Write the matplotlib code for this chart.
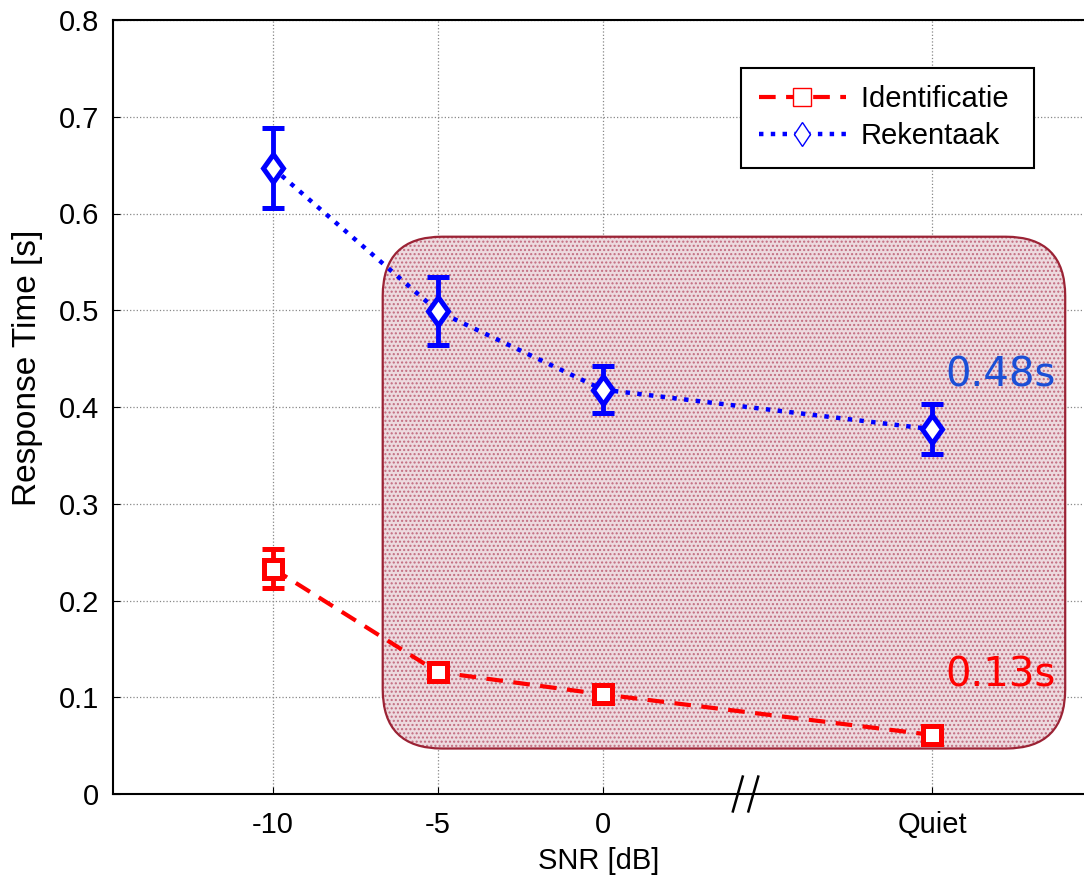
import matplotlib.pyplot as plt
from matplotlib.patches import FancyBboxPatch
from matplotlib.markers import MarkerStyle
from matplotlib.transforms import Affine2D
from matplotlib.lines import Line2D

plt.rcParams['font.family'] = ['Liberation Sans', 'DejaVu Sans']

# conditions on the x axis
snr_pos = [-10, -5, 0, 10]
snr_labels = ['-10', '-5', '0', 'Quiet']

ident = [0.233, 0.126, 0.103, 0.061]
ident_err = [0.020, 0.005, 0.005, 0.004]
reken = [0.647, 0.499, 0.418, 0.377]
reken_err = [0.041, 0.035, 0.024, 0.026]

fig = plt.figure(figsize=(10.84, 8.75), dpi=100)
ax = fig.add_axes([113 / 1084, 81 / 875, 971 / 1084, 774 / 875])

xmin, xmax = -14.85, 14.6
ax.set_xlim(xmin, xmax)
ax.set_ylim(0, 0.8)

# shaded region, rounded in pixel terms
asp = (971 / (xmax - xmin)) / (774 / 0.8)
box = dict(boxstyle='round,pad=0,rounding_size=1.8', mutation_aspect=asp)
ax.add_patch(FancyBboxPatch((-6.67, 0.047), 20.7, 0.529, facecolor='#eddadf',
                            edgecolor='#c26b7f', hatch='....', linewidth=0, zorder=1, **box))
ax.add_patch(FancyBboxPatch((-6.67, 0.047), 20.7, 0.529, facecolor='none',
                            edgecolor='#9b2335', linewidth=1.6, zorder=2, **box))

diamond = MarkerStyle('D', transform=Affine2D().scale(0.72, 1.0))

ax.errorbar(snr_pos, ident, yerr=ident_err, color='red', linestyle='--', dashes=(4, 2.5),
            linewidth=3, marker='s', markersize=13, markerfacecolor='white',
            markeredgewidth=3.6, elinewidth=3.5, capsize=8, capthick=3.5, zorder=3)
ax.errorbar(snr_pos, reken, yerr=reken_err, color='blue', linestyle=':',
            linewidth=3.2, marker=diamond, markersize=14, markerfacecolor='white',
            markeredgewidth=3.6, elinewidth=3.5, capsize=8, capthick=3.5, zorder=3)

ax.text(13.75, 0.433, '0.48s', color='#1a4fd6', fontsize=29, family='DejaVu Sans',
        ha='right', va='center', zorder=4)
ax.text(13.75, 0.122, '0.13s', color='red', fontsize=29, family='DejaVu Sans',
        ha='right', va='center', zorder=4)

# axis break marks
for dx in (-0.2, 0.27):
    ax.plot([4.15 + dx, 4.45 + dx], [-0.018, 0.018], color='black', linewidth=1.8,
            clip_on=False, zorder=5)

ax.set_xticks(snr_pos)
ax.set_xticklabels(snr_labels)
ax.set_yticks([0, 0.1, 0.2, 0.3, 0.4, 0.5, 0.6, 0.7, 0.8])
ax.set_yticklabels(['0', '0.1', '0.2', '0.3', '0.4', '0.5', '0.6', '0.7', '0.8'])
ax.tick_params(labelsize=21, direction='in', length=5)
ax.tick_params(axis='x', pad=12)
ax.tick_params(axis='y', pad=10)
ax.grid(True, color='#888888', linestyle=':', linewidth=0.9)
ax.set_axisbelow(True)
ax.spines['right'].set_visible(False)
for s in ('left', 'bottom', 'top'):
    ax.spines[s].set_linewidth(1.5)

ax.set_xlabel('SNR [dB]', fontsize=21, labelpad=6)
ax.set_ylabel('Response Time [s]', fontsize=24)
ax.yaxis.set_label_coords(-0.072, 0.55)

handles = [
    Line2D([], [], color='red', linestyle='--', dashes=(4, 2.5), linewidth=3,
           marker='s', markersize=13, markerfacecolor='white', markeredgewidth=1),
    Line2D([], [], color='blue', linestyle=':', linewidth=3.2,
           marker=diamond, markersize=12, markerfacecolor='white', markeredgewidth=1),
]
leg = ax.legend(handles, ['Identificatie ', 'Rekentaak'], loc='upper right',
                bbox_to_anchor=(0.9485, 0.938), borderaxespad=0, fontsize=21,
                handlelength=3.0, fancybox=False, framealpha=1, borderpad=0.6,
                labelspacing=0.3, handletextpad=0.5)
leg.get_frame().set_edgecolor('black')
leg.get_frame().set_linewidth(1.5)

fig.savefig('out.png', dpi=100)
